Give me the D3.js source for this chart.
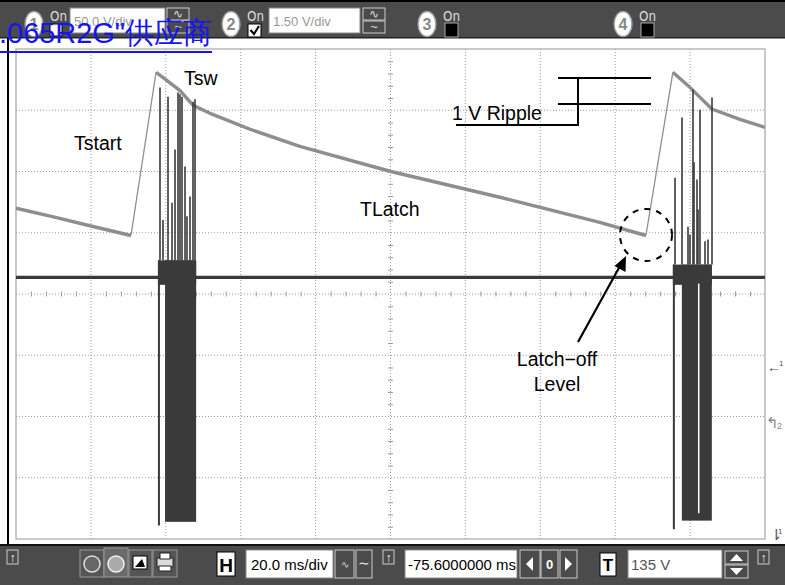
<!DOCTYPE html>
<html><head><meta charset="utf-8">
<script src="https://cdn.jsdelivr.net/npm/d3@7"></script>
<style>body{margin:0;background:#fff;overflow:hidden} svg{display:block;font-family:"Liberation Sans",Arial,sans-serif;}</style>
</head><body><svg id="c" width="785" height="585"></svg>
<script>
// ---------- data ----------
const timeRange = [0, 200];          // ms, 20 ms/div x 10 div
const divRange = [-4, 4];            // vertical divisions
const gridTimes = [20, 40, 60, 80, 100, 120, 140, 160, 180];
const gridDivs = [-3, -2, -1, 0, 1, 2, 3];
// channel 2 (Vcc, grey) in divisions
const ch2Start  = [[0, 1.40], [10, 1.26], [20, 1.11], [30.7, 0.955]];
const ch2Ramp1  = [[30.7, 0.955], [37.4, 3.62]];
const ch2Decay1 = [[37.4, 3.62], [40.6, 3.47], [43.8, 3.32], [47.3, 3.08], [51.8, 2.95], [62.5, 2.69], [75.8, 2.41], [100.1, 2.0], [129.2, 1.58], [155.9, 1.17], [168.2, 0.955]];
const ch2Ramp2  = [[168.2, 0.955], [175.4, 3.62]];
const ch2Decay2 = [[175.4, 3.62], [180, 3.37], [185.8, 3.02], [193.3, 2.85], [200, 2.72]];
// channel 1 (drain, dark)
const ch1Level = 0.27;
const bursts = [
  {lead: 37.9, start: 39.8, end: 48.1, top: 0.55, bottom: -3.72, leadBottom: -3.78, gaps: []},
  {lead: 175.4, start: 177.8, end: 185.8, top: 0.48, bottom: -3.70, leadBottom: -3.84, gaps: [182.3]}
];
const spikes1 = [[38.45, 3.37], [39.25, 1.21], [40.59, 3.22], [41.66, 1.49], [42.46, 2.36], [43.26, 3.29], [43.79, 3.26], [44.33, 3.22], [45.13, 2.08], [45.66, 1.27], [46.46, 1.59], [47.26, 3.14], [47.80, 3.18]];
const spikes2 = [[175.97, 1.90], [177.84, 2.88], [179.44, 1.10], [179.97, 0.97], [180.77, 3.34], [181.04, 2.15], [181.84, 1.87], [182.11, 1.38], [182.64, 3.01], [183.98, 0.86], [184.78, 0.89], [185.85, 3.21]];
const labels = {ch1: "50.0 V/div", ch2: "1.50 V/div", time: "20.0 ms/div", pos: "-75.6000000 ms", trig: "135 V"};

// ---------- drawing ----------
const svg = d3.select("#c");
const x = d3.scaleLinear().domain(timeRange).range([16, 765]);
const y = d3.scaleLinear().domain(divRange).range([539, 49]);

svg.append("rect").attr("x",0).attr("y",0).attr("width",785).attr("height",585).attr("fill","#fff");
svg.append("line").attr("x1",8).attr("x2",8).attr("y1",38).attr("y2",545).attr("stroke","#000").attr("stroke-width",2);
const plot = svg.append("g");
plot.append("rect").attr("x",x(0)).attr("y",y(4)).attr("width",x(200)-x(0)).attr("height",y(-4)-y(4))
  .attr("fill","#fff").attr("stroke","#b8b8b8").attr("stroke-width",1.5);

// grid
plot.selectAll(".gv").data(gridTimes).join("line")
  .attr("x1",d=>x(d)).attr("x2",d=>x(d)).attr("y1",y(4)).attr("y2",y(-4))
  .attr("stroke","#9a9a9a").attr("stroke-width",1).attr("stroke-dasharray","1,2");
plot.selectAll(".gh").data(gridDivs).join("line")
  .attr("x1",x(0)).attr("x2",x(200)).attr("y1",d=>y(d)).attr("y2",d=>y(d))
  .attr("stroke","#9a9a9a").attr("stroke-width",1).attr("stroke-dasharray","1,2");
// center axis ticks
const xMinor = d3.range(4, 200, 4).filter(t => t % 20 !== 0);
const yMinor = d3.range(-3.8, 4, 0.2).filter(v => Math.abs(v - Math.round(v)) > 0.05);
const axX = d3.axisBottom(x).tickValues(xMinor).tickSize(5).tickFormat("");
const gx = plot.append("g").attr("transform",`translate(0,${y(0)-2.5})`).call(axX);
gx.select(".domain").remove();
gx.selectAll("line").attr("stroke","#9a9a9a");
const axY = d3.axisRight(y).tickValues(yMinor).tickSize(5).tickFormat("");
const gy = plot.append("g").attr("transform",`translate(${x(100)-2.5},0)`).call(axY);
gy.select(".domain").remove();
gy.selectAll("line").attr("stroke","#9a9a9a");

const line = d3.line().x(d=>x(d[0])).y(d=>y(d[1]));
// channel 2
[ch2Start, ch2Decay1, ch2Decay2].forEach(s => plot.append("path").attr("d", line(s)).attr("fill","none")
  .attr("stroke","#8e8e8e").attr("stroke-width",3.4).attr("stroke-linejoin","round"));
[ch2Ramp1, ch2Ramp2].forEach(s => plot.append("path").attr("d", line(s)).attr("fill","none")
  .attr("stroke","#8e8e8e").attr("stroke-width",1.3));

// channel 1
const dark = "#3a3a3a";
plot.append("path").attr("d", line([[0, ch1Level], [200, ch1Level]])).attr("stroke",dark).attr("stroke-width",3.2).attr("fill","none");
bursts.forEach((b, i) => {
  const sp = i === 0 ? spikes1 : spikes2;
  plot.append("rect").attr("x",x(b.lead)).attr("y",y(b.top)).attr("width",x(b.end)-x(b.lead)).attr("height",y(ch1Level-0.12)-y(b.top)).attr("fill",dark);
  plot.append("rect").attr("x",x(b.start)).attr("y",y(b.top)).attr("width",x(b.end)-x(b.start)).attr("height",y(b.bottom)-y(b.top)).attr("fill",dark);
  plot.append("line").attr("x1",x(b.lead)+1).attr("x2",x(b.lead)+1).attr("y1",y(b.top)).attr("y2",y(b.leadBottom)).attr("stroke",dark).attr("stroke-width",2);
  b.gaps.forEach(g => plot.append("line").attr("x1",x(g)).attr("x2",x(g)).attr("y1",y(ch1Level-0.1)).attr("y2",y(b.bottom+0.12)).attr("stroke","#fff").attr("stroke-width",1.5));
  plot.selectAll(null).data(sp).join("line")
    .attr("x1",d=>x(d[0])).attr("x2",d=>x(d[0])).attr("y1",y(b.top)).attr("y2",d=>y(d[1]))
    .attr("stroke",dark).attr("stroke-width",1.6);
});

// annotations
const ann = svg.append("g").attr("font-size",19.5).attr("fill","#000");
ann.append("text").attr("x",184).attr("y",85).text("Tsw");
ann.append("text").attr("x",74).attr("y",150).text("Tstart");
ann.append("text").attr("x",360).attr("y",216).text("TLatch");
ann.append("text").attr("x",452).attr("y",120).text("1 V Ripple");
ann.append("text").attr("x",557).attr("y",366).attr("text-anchor","middle").text("Latch\u2212off");
ann.append("text").attr("x",557).attr("y",391).attr("text-anchor","middle").text("Level");
const ln = (a,b,c,d,w=2)=>svg.append("line").attr("x1",a).attr("y1",b).attr("x2",c).attr("y2",d).attr("stroke","#000").attr("stroke-width",w);
ln(456,125,579,125); ln(578,78,578,126); ln(558,78,651,78); ln(558,104,651,104);
svg.append("circle").attr("cx",646).attr("cy",235).attr("r",26).attr("fill","none").attr("stroke","#000").attr("stroke-width",2).attr("stroke-dasharray","6,6");
ln(578,342,620,266,2.2);
svg.append("path").attr("d","M626,256 L625.5,272 L614.5,266 Z").attr("fill","#000");

// right side markers
svg.append("text").attr("x",767).attr("y",372).attr("font-size",14).attr("fill","#555").text("\u2190");
svg.append("text").attr("x",779).attr("y",366).attr("font-size",8).attr("fill","#555").text("1");
svg.append("text").attr("x",766).attr("y",428).attr("font-size",15).attr("fill","#888").text("\u21b0");
svg.append("text").attr("x",777).attr("y",429).attr("font-size",9).attr("fill","#888").text("2");
svg.append("text").attr("x",770).attr("y",540).attr("font-size",15).attr("fill","#555").text("\u21c2");
svg.append("text").attr("x",778).attr("y",534).attr("font-size",8).attr("fill","#555").text("1");

// ---------- toolbars ----------
const bar = "#4b4b4b";
svg.append("rect").attr("x",0).attr("y",0).attr("width",785).attr("height",38).attr("fill",bar);
svg.append("rect").attr("x",0).attr("y",0).attr("width",785).attr("height",2).attr("fill","#000");
svg.append("rect").attr("x",0).attr("y",37).attr("width",785).attr("height",1.5).attr("fill","#222");
svg.append("rect").attr("x",0).attr("y",545).attr("width",785).attr("height",40).attr("fill",bar);
svg.append("rect").attr("x",0).attr("y",544).attr("width",785).attr("height",2).attr("fill","#111");

const box = (x0,y0,w,h,fill,stroke="#cfcfcf")=>svg.append("rect").attr("x",x0).attr("y",y0).attr("width",w).attr("height",h).attr("fill",fill).attr("stroke",stroke).attr("stroke-width",1);
const txt = (x0,y0,s,size,fill,anchor="start",weight="normal",fam=null)=>{const t=svg.append("text").attr("x",x0).attr("y",y0).attr("font-size",size).attr("fill",fill).attr("text-anchor",anchor).attr("font-weight",weight).text(s); if(fam) t.attr("font-family",fam); return t;};
const chan = (cx, n) => {
  svg.append("ellipse").attr("cx",cx).attr("cy",24).attr("rx",9).attr("ry",12.5).attr("fill","#fff").attr("stroke","#999").attr("stroke-width",1.5);
  txt(cx,30,n,16,"#888","middle","bold");
  txt(cx+16,21,"On",14,"#ddd","start","normal","DejaVu Sans Condensed").attr("textLength",17).attr("lengthAdjust","spacingAndGlyphs");
};
chan(34,"1"); chan(231,"2"); chan(427,"3"); chan(623,"4");
box(50,24,12,12,"#fff","#000");
box(248,24,13,13,"#fff","#000");
svg.append("path").attr("d","M250.5,30 L254,34 L259,26").attr("fill","none").attr("stroke","#000").attr("stroke-width",2);
box(445,23,13,14,"#000","#aaa");
box(641,23,13,14,"#000","#aaa");
box(70,8,95,25,"#fff","#888"); txt(74,26,labels.ch1,13,"#999");
box(269,8,91,25,"#fff","#888"); txt(273,26,labels.ch2,13,"#999");
[167,363].forEach(bx=>{ box(bx,8,22,12,bar,"#ccc"); box(bx,21,22,12,bar,"#ccc");
  txt(bx+11,18,"\u223f",12,"#ddd","middle"); txt(bx+11,31,"~",13,"#ddd","middle"); });

// bottom bar
const arrowBtn = (bx)=>{ box(bx,550,11,14,bar,"#ccc"); txt(bx+5.5,562,"\u2191",12,"#fff","middle","bold"); };
arrowBtn(7); arrowBtn(383); arrowBtn(758);
box(80,550,24,27,"#555","#999");
svg.append("circle").attr("cx",92).attr("cy",564).attr("r",8).attr("fill","#666").attr("stroke","#ddd").attr("stroke-width",1.5);
box(104,548,24,29,"#6a6a6a","#999");
svg.append("circle").attr("cx",116).attr("cy",564).attr("r",8).attr("fill","#aaa").attr("stroke","#eee").attr("stroke-width",1.5);
box(129,550,23,27,"#555","#999");
box(133,556,14,13,"#fff","#000");
svg.append("path").attr("d","M135,567 L142,559 L145,567 Z").attr("fill","#000");
box(153,550,24,27,"#555","#999");
box(157,558,16,9,"#ddd","#222"); box(160,553,10,6,"#fff","#222"); box(159,566,12,5,"#fff","#222");
box(217,552,18,24,"#fff","#000"); txt(226,572,"H",19,"#000","middle","bold");
box(246,550,87,28,"#fff","#888"); txt(251,570,labels.time,15,"#000");
box(335,550,19,28,bar,"#ccc"); txt(344.5,568,"\u223f",10,"#ddd","middle");
box(356,550,16,28,bar,"#ccc"); txt(364,568,"\u223c",14,"#ddd","middle");
box(405,550,112,28,"#fff","#888"); txt(408,570,labels.pos,15,"#000","start","normal").attr("textLength",108).attr("lengthAdjust","spacingAndGlyphs");
box(520,550,20,28,bar,"#ccc"); svg.append("path").attr("d","M533,557 L533,571 L526,564 Z").attr("fill","#fff");
box(541,550,17,28,bar,"#ccc"); txt(549.5,569,"0",13,"#fff","middle","bold");
box(560,550,17,28,bar,"#ccc"); svg.append("path").attr("d","M565,557 L565,571 L572,564 Z").attr("fill","#fff");
box(600,553,16,23,"#fff","#000"); txt(608,571,"T",17,"#000","middle","bold");
box(628,550,94,28,"#fff","#888"); txt(631,570,labels.trig,15,"#555");
box(725,551,23,13,bar,"#ccc"); svg.append("path").attr("d","M730,561 L736.5,554 L743,561 Z").attr("fill","#fff");
box(725,565,23,13,bar,"#ccc"); svg.append("path").attr("d","M730,568 L736.5,575 L743,568 Z").attr("fill","#fff");

// overlay hyperlink text
svg.append("text").attr("x",-1).attr("y",43).attr("font-size",30).attr("fill","#1414f5")
  .attr("textLength",213).attr("lengthAdjust","spacingAndGlyphs").text(".065R2G\"\u4f9b\u5e94\u5546");
svg.append("rect").attr("x",0).attr("y",51).attr("width",212).attr("height",2).attr("fill","#1414f5");
</script></body></html>
